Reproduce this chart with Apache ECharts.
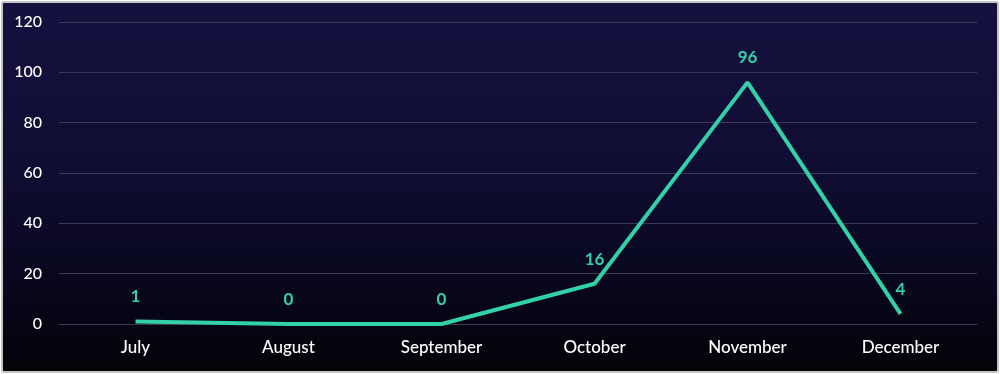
<!DOCTYPE html>
<html><head><meta charset="utf-8">
<script src="https://cdn.jsdelivr.net/npm/echarts@6/dist/echarts.min.js"></script>
<style>
html,body{margin:0;padding:0;background:#fff;}
#wrap{position:absolute;left:1px;top:1px;width:994px;height:368px;border:2px solid #c4c4c4;border-radius:3px;overflow:hidden;background:linear-gradient(#15113f 0%,#100d33 45%,#07061a 80%,#030308 100%);}
#c{position:absolute;left:-3px;top:-3px;width:1000px;height:374px;}
</style></head>
<body><div id="wrap"><div id="c"></div></div>
<script>
const categories = ["July","August","September","October","November","December"];
const values = [1,0,0,16,96,4];
const yTicks = [0,20,40,60,80,100,120];

const chart = echarts.init(document.getElementById('c'));
chart.setOption({
  backgroundColor: 'transparent',
  animation: false,
  grid: {left: 59, right: 23, top: 22, bottom: 50, containLabel: false},
  xAxis: {
    type: 'category', data: categories, boundaryGap: true,
    axisLine: {show: true, lineStyle: {color: '#3b3858', width: 1}},
    axisTick: {show: false},
    axisLabel: {color: '#ffffff', fontSize: 17, fontFamily: 'Lato', fontWeight: 500, margin: 15}
  },
  yAxis: {
    type: 'value', min: 0, max: 120, interval: 20,
    axisLine: {show: false}, axisTick: {show: false},
    splitLine: {lineStyle: {color: '#3b3858', width: 1}},
    axisLabel: {color: '#ffffff', fontSize: 16, fontFamily: 'Lato', fontWeight: 500, margin: 17,
      formatter: v => yTicks.includes(v) ? String(v) : ''}
  },
  series: [{
    type: 'line', data: values, showSymbol: true, symbol: 'circle', symbolSize: 0,
    itemStyle: {color: '#33d1a8'},
    lineStyle: {color: '#33d1a8', width: 4},
    label: {show: true, position: 'top', distance: 16, color: '#33d1a8',
      fontSize: 17, fontWeight: 'bold', fontFamily: 'Lato'}
  }]
});
</script></body></html>
